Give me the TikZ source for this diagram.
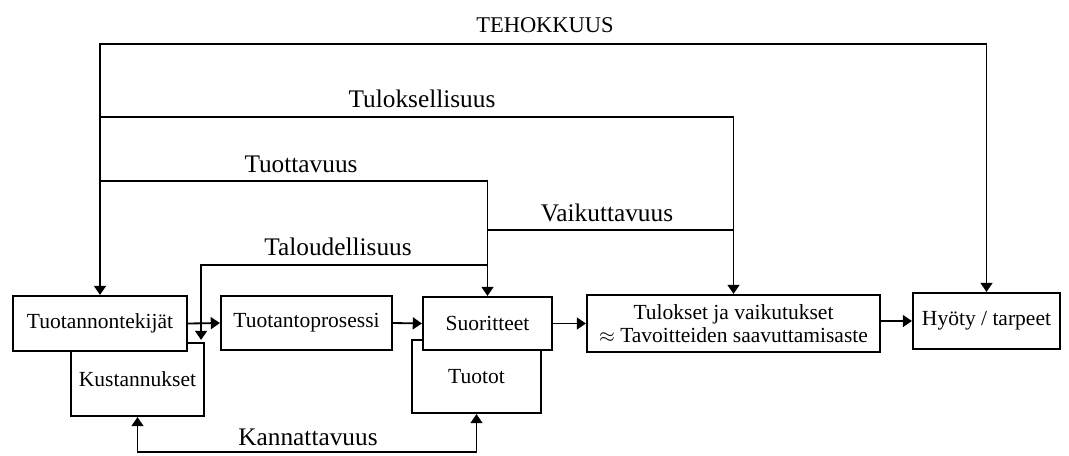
\documentclass[tikz,border=0pt]{standalone}
\usepackage{fontspec}
\setmainfont{Liberation Serif}
\usetikzlibrary{arrows.meta,calc}

\tikzset{
  laatikko/.style={draw, line width=1.5pt, fill=white, align=center, inner sep=0pt},
  viiva/.style={line width=1.3pt},
  nuoli/.style={viiva, -{Triangle[length=6.5pt,width=8.5pt]}},
  kaksinuoli/.style={viiva, {Triangle[length=6.5pt,width=8.5pt]}-{Triangle[length=6.5pt,width=8.5pt]}},
  mittari/.style={font=\fontsize{18}{20}\selectfont, inner sep=0pt}
}

\begin{document}
\begin{tikzpicture}[x=0.025cm,y=-0.025cm,font=\fontsize{15.3}{16.5}\selectfont]
\useasboundingbox (0,0) rectangle (1069,455);

% Laatikot taustalla
\node[laatikko, minimum width=3.325cm, minimum height=1.825cm] (kust) at (137.5,379.5) {Kustannukset};
\node[laatikko, minimum width=3.225cm, minimum height=1.825cm] (tuotot) at (476.5,376.5) {Tuotot};

% Laatikot
\node[laatikko, minimum width=4.35cm, minimum height=1.375cm] (tekijat) at (100,323.5) {Tuotannontekijät};
\node[laatikko, minimum width=4.275cm, minimum height=1.35cm] (prosessi) at (306.5,323) {Tuotantoprosessi};
\node[laatikko, minimum width=3.225cm, minimum height=1.325cm] (suor) at (487.5,323.5) {Suoritteet};
\node[laatikko, minimum width=7.325cm, minimum height=1.425cm] (tulokset) at (733.5,323.5) {Tulokset ja vaikutukset\\$\approx$ Tavoitteiden saavuttamisaste};
\node[laatikko, minimum width=3.675cm, minimum height=1.4cm] (hyoty) at (986.5,321) {Hyöty / tarpeet};

% Tasot
\coordinate (yteho) at (0,44);
\coordinate (ytulos) at (0,117);
\coordinate (ytuott) at (0,181);
\coordinate (yvaik) at (0,230);
\coordinate (ytalo) at (0,265);
\coordinate (ykann) at (0,452);
\coordinate (kustkulma) at ($(kust.north east)+(-4,-2)$);

% Nuolet vasemmalta oikealle
\draw[nuoli] (tekijat.east) -- (prosessi.west);
\draw[nuoli] (prosessi.east) -- (suor.west);
\draw[nuoli] (suor.east) -- (suor.east -| tulokset.west);
\draw[nuoli] (tulokset.east |- hyoty) -- (hyoty.west);

% Mittarit
\draw[kaksinuoli] (tekijat.north) |- (hyoty.north |- yteho) -- (hyoty.north);
\draw[nuoli] (tekijat.north |- ytulos) -| (tulokset.north);
\draw[nuoli] (tekijat.north |- ytuott) -| (suor.north);
\draw[viiva] (suor.north |- yvaik) -- (tulokset.north |- yvaik);
\draw[nuoli] (suor.north |- ytalo) -| (kustkulma);
\draw[kaksinuoli] (kust.south) |- (tuotot.south |- ykann) -- (tuotot.south);

% Nimet
\node[mittari, font=\fontsize{16}{18}\selectfont] (teho) at (545,25) {TEHOKKUUS};
\node[mittari] (tulos) at (422,99) {Tuloksellisuus};
\node[mittari] (tuott) at (301,164) {Tuottavuus};
\node[mittari] (vaik) at (607,213) {Vaikuttavuus};
\node[mittari] (talo) at (338,247) {Taloudellisuus};
\node[mittari] (kann) at (308,437) {Kannattavuus};
\end{tikzpicture}
\end{document}
